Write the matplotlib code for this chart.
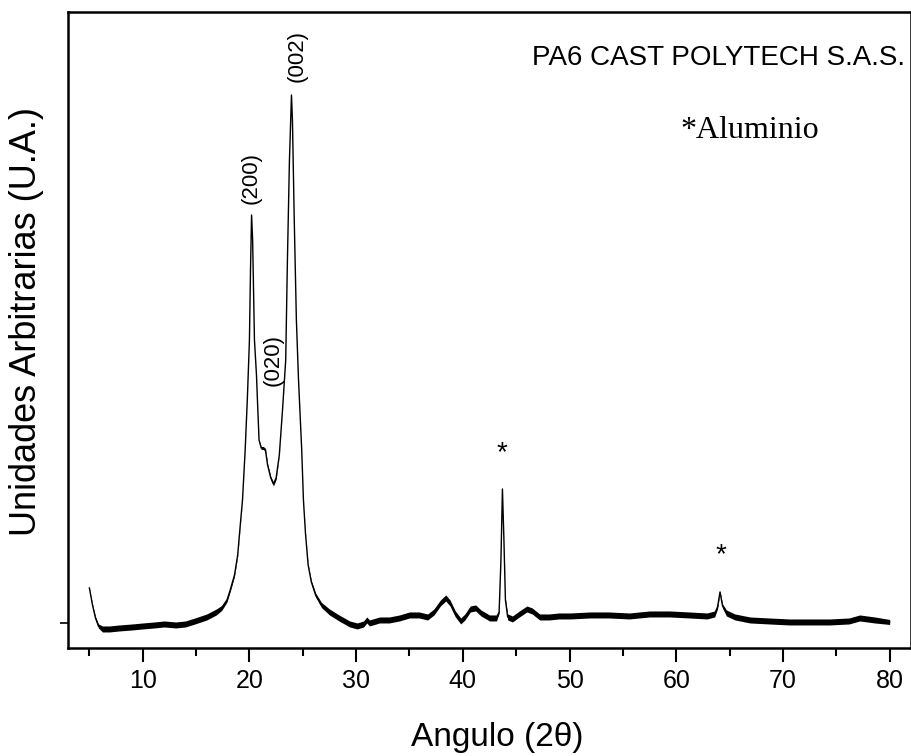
import numpy as np
import matplotlib.pyplot as plt

# ----------------------------
# Data (2theta in degrees, arbitrary units)
# ----------------------------
angle = [5.0, 5.29, 5.57, 5.85, 6.22, 6.88, 7.8, 9.0, 10.0, 11.1, 12.0, 13.1,
         14.0, 14.9, 16.0, 16.9, 17.4, 17.9, 18.2, 18.6, 18.9, 19.1, 19.35,
         19.6, 19.8, 20.0, 20.1, 20.2, 20.3, 20.47, 20.66, 20.75, 20.9, 21.1,
         21.3, 21.5, 21.7, 22.0, 22.25, 22.5, 22.8, 23.1, 23.4, 23.56, 23.75,
         23.94, 24.03, 24.2, 24.4, 24.6, 24.9, 25.06, 25.25, 25.5, 25.8, 26.2,
         26.75, 27.5, 28.4, 29.4, 30.1, 30.7, 31.0, 31.25, 32.2, 33.1, 34.06,
         35.0, 35.9, 36.7, 37.3, 37.9, 38.4, 38.8, 39.3, 39.8, 40.2, 40.7,
         41.2, 41.7, 42.5, 43.15, 43.4, 43.57, 43.71, 43.85, 43.99, 44.2,
         44.65, 45.3, 46.0, 46.5, 47.2, 48.1, 49.0, 50.1, 51.9, 53.7, 55.6,
         57.5, 59.4, 61.2, 62.9, 63.6, 63.87, 64.1, 64.34, 64.7, 65.5, 66.9,
         68.7, 70.6, 72.5, 74.4, 76.2, 77.2, 78.6, 80.0]
intensity = [35, 18, 5, -3, -6, -6, -5, -4, -3, -2, -1, -2,
             -1, 2, 6, 11, 15, 23, 33, 48, 68, 93, 123,
             173, 223, 283, 353, 408, 383, 283, 248, 223, 183, 175,
             175, 173, 158, 145, 139, 145, 168, 213, 263, 363, 463,
             528, 503, 403, 303, 243, 173, 123, 90, 58, 41, 28,
             18, 11, 5, -1, -3, -1, 3, 0, 3, 3, 5,
             8, 8, 6, 11, 20, 25, 20, 9, 2, 6, 14,
             15, 10, 5, 5, 11, 63, 134, 83, 23, 6,
             4, 9, 14, 12, 6, 6, 7, 7, 8, 8, 7,
             9, 9, 8, 7, 9, 16, 31, 17, 10, 6, 3,
             2, 1, 1, 1, 2, 5, 3, 1]
# half height of the noise band around the trace
noise = [0.5, 1, 1.5, 2, 3, 3, 3, 3, 3, 3, 3, 3,
         3, 3, 3, 3, 2.5, 2, 1.5, 1.5, 1, 1, 0.5,
         0.3, 0.3, 0.3, 0.3, 0.3, 0.3, 0.3, 0.3, 0.3, 0.5, 1.5,
         1.5, 1.5, 1.5, 1.5, 2, 1.5, 0.5, 0.3, 0.3, 0.3, 0.3,
         0.3, 0.3, 0.3, 0.3, 0.3, 0.3, 0.3, 0.5, 1, 1.5, 2,
         2.5, 3, 3, 3, 3, 3, 3, 3, 3, 3, 3,
         3, 3, 3, 3, 3, 3, 3, 3, 3, 3, 3,
         3, 3, 3, 3, 1.5, 0.5, 0.3, 0.5, 1.5, 3,
         3, 3, 3, 3, 3, 3, 3, 3, 3, 3, 3,
         3, 3, 3, 3, 3, 2, 1, 2, 3, 3, 3,
         3, 3, 3, 3, 3, 3, 3, 2.5]

peak_labels = ["(200)", "(020)", "(002)"]
peak_pos = [20.2, 22.2, 24.45]
peak_y = [445, 263, 567]
al_pos = [43.7, 64.2]
al_y = [170, 68]

x = np.array(angle)
y = np.array(intensity)
w = np.array(noise)

# ----------------------------
# Plot
# ----------------------------
plt.rcParams["font.family"] = ["Liberation Sans", "DejaVu Sans"]
fig = plt.figure(figsize=(9.12, 7.56), dpi=100)
ax = fig.add_axes([0.0746, 0.1429, 0.9243, 0.8412])

ax.fill_between(x, y - w, y + w, color="black", lw=0)
ax.plot(x, y, color="black", lw=1.0)

ax.set_xticks(range(10, 81, 10))
ax.set_xticks(range(5, 81, 10), minor=True)
ax.set_yticks([0])
ax.set_yticklabels([])
ax.set_xlim(3, 82)
ax.set_ylim(-25, 611)
ax.tick_params(axis="x", which="major", direction="out", length=10, width=1.5,
               labelsize=18, pad=5)
ax.tick_params(axis="x", which="minor", direction="out", length=6, width=1.5)
ax.tick_params(axis="y", direction="out", length=6, width=1.2)
for sp in ax.spines.values():
    sp.set_linewidth(1.8)

ax.set_xlabel("Angulo (2θ)", fontsize=24)
ax.xaxis.set_label_coords(0.509, -0.116)
ax.set_ylabel("Unidades Arbitrarias (U.A.)", fontsize=26)
ax.yaxis.set_label_coords(-0.029, 0.513)

for lab, px, py in zip(peak_labels, peak_pos, peak_y):
    ax.text(px, py, lab, rotation=90, ha="center", va="center", fontsize=16)
for px, py in zip(al_pos, al_y):
    ax.text(px, py, "*", ha="center", va="center", fontsize=20)

ax.text(0.993, 0.917, "PA6 CAST POLYTECH S.A.S.", transform=ax.transAxes,
        ha="right", va="baseline", fontsize=20)
ax.text(0.726, 0.802, "*Aluminio", transform=ax.transAxes, ha="left",
        va="baseline", fontsize=23, family="Liberation Serif")

fig.savefig("out.png", dpi=100)
